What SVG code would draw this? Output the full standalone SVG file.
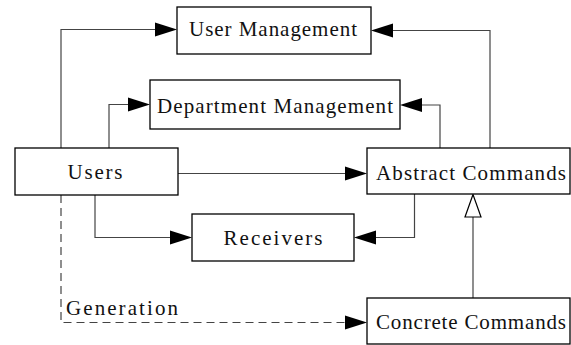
<svg xmlns="http://www.w3.org/2000/svg" width="571" height="345" viewBox="0 0 571 345">
  <style>
    .box { fill: #fff; stroke: #000; stroke-width: 1.3; }
    .lbl { font-family: "Liberation Serif", "DejaVu Serif", serif; font-size: 21px; fill: #111; }
    .c { text-anchor: middle; }
    .edge { fill: none; stroke: #444; stroke-width: 1.2; }
    .dash { stroke-dasharray: 8 5; }
    .head { fill: #000; stroke: none; }
    .hollow { fill: #fff; stroke: #000; stroke-width: 1.2; }
  </style>
  <rect width="571" height="345" fill="#fff"/>

  <g id="connectors">
    <!-- Users -> User Management -->
    <path class="edge" d="M61,148 V29.5 H156"/>
    <polygon class="head" points="177,29.5 155,22.5 155,36.5"/>
    <!-- Users -> Department Management -->
    <path class="edge" d="M109,148 V104.5 H130"/>
    <polygon class="head" points="150,104.5 128,97.5 128,111.5"/>
    <!-- Users -> Abstract Commands -->
    <path class="edge" d="M178,173.5 H347"/>
    <polygon class="head" points="367,173.5 345,166.5 345,180.5"/>
    <!-- Users -> Receivers -->
    <path class="edge" d="M95,195 V237.5 H172"/>
    <polygon class="head" points="192,237.5 170,230.5 170,244.5"/>
    <!-- Abstract Commands -> User Management -->
    <path class="edge" d="M490,148 V30.5 H392"/>
    <polygon class="head" points="371,30.5 393,23.5 393,37.5"/>
    <!-- Abstract Commands -> Department Management -->
    <path class="edge" d="M440,148 V105 H420"/>
    <polygon class="head" points="400,105 422,98 422,112"/>
    <!-- Abstract Commands -> Receivers -->
    <path class="edge" d="M414.5,194 V237.5 H375"/>
    <polygon class="head" points="354,237.5 376,230.5 376,244.5"/>
    <!-- Concrete Commands inherits Abstract Commands -->
    <path class="edge" d="M473,298 V217"/>
    <polygon class="hollow" points="473,194.5 465,217 481,217"/>
    <!-- Generation (dashed) -->
    <path class="edge dash" d="M61,195 V322.5 H347"/>
    <polygon class="head" points="367,322.5 345,315.5 345,329.5"/>
    <text class="lbl" x="66" y="315" textLength="112" lengthAdjust="spacing">Generation</text>
  </g>

  <g id="user-management">
    <rect class="box" x="177" y="7" width="194" height="47"/>
    <text class="lbl c" x="273" y="36" textLength="168" lengthAdjust="spacing">User Management</text>
  </g>
  <g id="department-management">
    <rect class="box" x="150" y="80" width="250" height="49"/>
    <text class="lbl c" x="275" y="113" textLength="236" lengthAdjust="spacing">Department Management</text>
  </g>
  <g id="users">
    <rect class="box" x="15" y="148" width="163" height="47"/>
    <text class="lbl c" x="95" y="179" textLength="55" lengthAdjust="spacing">Users</text>
  </g>
  <g id="abstract-commands">
    <rect class="box" x="367" y="148" width="203" height="46"/>
    <text class="lbl" x="376" y="180" textLength="190" lengthAdjust="spacing">Abstract Commands</text>
  </g>
  <g id="receivers">
    <rect class="box" x="192" y="214" width="162" height="47"/>
    <text class="lbl c" x="273" y="245" textLength="99" lengthAdjust="spacing">Receivers</text>
  </g>
  <g id="concrete-commands">
    <rect class="box" x="367" y="298" width="203" height="46"/>
    <text class="lbl" x="376" y="329" textLength="190" lengthAdjust="spacing">Concrete Commands</text>
  </g>
</svg>
